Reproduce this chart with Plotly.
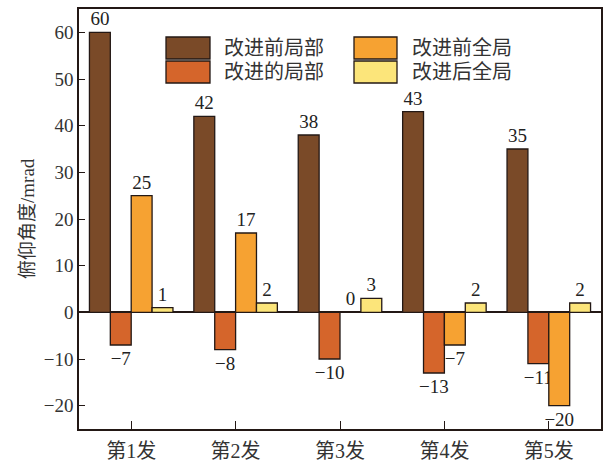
import plotly.graph_objects as go

# 各发次与四种修正方案的俯仰角度 (mrad)
shots = ["第1发", "第2发", "第3发", "第4发", "第5发"]
local_before = [60, 42, 38, 43, 35]
local_after = [-7, -8, -10, -13, -11]
global_before = [25, 17, 0, -7, -20]
global_after = [1, 2, 3, 2, 2]

series_names = ["改进前局部", "改进的局部", "改进前全局", "改进后全局"]
series_values = [local_before, local_after, global_before, global_after]
series_colors = ["#7A4A28", "#D5652B", "#F6A232", "#FCE57A"]

FONT = "Liberation Serif, 'Times New Roman', 'Noto Sans CJK SC', serif"
EDGE = "#231815"

W, H = 610, 461
L, R, T, B = 79, 9, 9, 32
PW, PH = W - L - R, H - T - B


def px(x):
    return (x - L) / PW


def py(y):
    return (H - B - y) / PH


def label(v):
    return str(v).replace("-", "\u2212")


fig = go.Figure()
for name, vals, color in zip(series_names, series_values, series_colors):
    fig.add_trace(go.Bar(
        x=shots, y=vals, name=name,
        marker=dict(color=color, line=dict(color=EDGE, width=1.3)),
        text=[label(v) for v in vals],
        textposition="outside",
        constraintext="none",
        cliponaxis=False,
        textfont=dict(family=FONT, size=19, color="#222"),
        showlegend=False,
    ))

# 图例：两列色块与文字
legend_items = [(0, 0), (0, 1), (1, 0), (1, 1)]
col_box = [(166, 210), (354, 397)]
col_text = [222, 410]
row_box = [(37, 59), (61, 83)]
for (col, row), name, color in zip(legend_items, series_names, series_colors):
    x0, x1 = col_box[col]
    y0, y1 = row_box[row]
    fig.add_shape(type="rect", xref="paper", yref="paper",
                  x0=px(x0), x1=px(x1), y0=py(y1), y1=py(y0),
                  fillcolor=color, line=dict(color=EDGE, width=1.3))
    fig.add_annotation(xref="paper", yref="paper", x=px(col_text[col]),
                       y=py((y0 + y1) / 2), text=name, showarrow=False,
                       xanchor="left", yanchor="middle",
                       font=dict(family=FONT, size=20, color="#333"))

# 纵轴标题
fig.add_annotation(xref="paper", yref="paper", x=px(27), y=0.5,
                   text="俯仰角度/mrad", textangle=-90, showarrow=False,
                   xanchor="center", yanchor="middle",
                   font=dict(family=FONT, size=19, color="#333"))

fig.update_layout(
    width=W, height=H,
    margin=dict(l=L, r=R, t=T, b=B, pad=0, autoexpand=False),
    paper_bgcolor="white", plot_bgcolor="white",
    barmode="group", bargap=0.2, bargroupgap=0,
    font=dict(family=FONT, size=19, color="#333"),
)
fig.update_xaxes(
    range=[-0.5, 4.5], showline=True, linecolor=EDGE, linewidth=1.5,
    mirror=True, ticks="inside", ticklen=8, tickwidth=1.3, tickcolor=EDGE,
    showgrid=False, automargin=False, ticklabelstandoff=3,
    tickfont=dict(family=FONT, size=20, color="#333"),
)
fig.update_yaxes(
    range=[-25, 65], tickvals=[-20, -10, 0, 10, 20, 30, 40, 50, 60],
    ticktext=[label(v) for v in [-20, -10, 0, 10, 20, 30, 40, 50, 60]],
    showline=True, linecolor=EDGE, linewidth=1.5, mirror=True,
    ticks="inside", ticklen=6, tickwidth=1.3, tickcolor=EDGE,
    showgrid=False, zeroline=True, zerolinecolor=EDGE, zerolinewidth=1.5,
    automargin=False,
    tickfont=dict(family=FONT, size=19, color="#333"),
)

fig.write_html("out.html")
